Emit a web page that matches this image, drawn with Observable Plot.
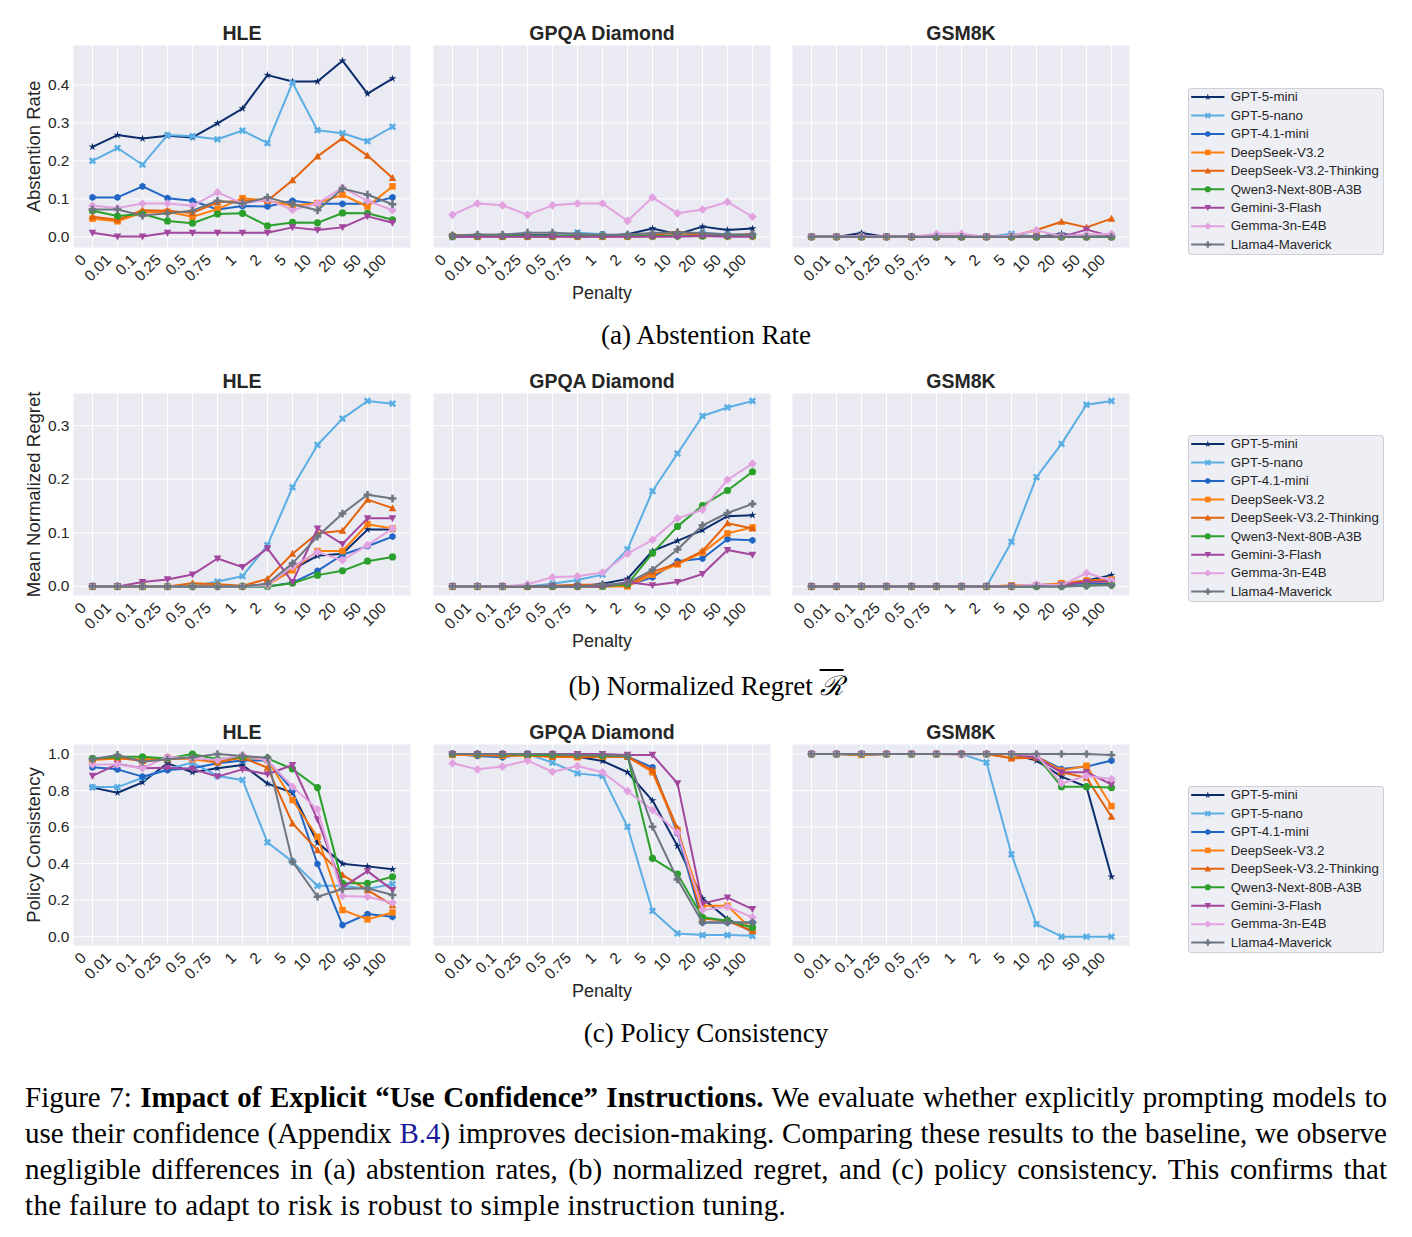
<!DOCTYPE html>
<html><head><meta charset="utf-8">
<script src="https://cdn.jsdelivr.net/npm/d3@7"></script>
<script src="https://cdn.jsdelivr.net/npm/@observablehq/plot@0.6"></script>
<style>
body{margin:0;background:#fff;}
#fig{position:relative;width:1412px;height:1237px;overflow:hidden;background:#fff;}
.panel{position:absolute;}
.leg{position:absolute;left:1188px;width:196px;height:167px;box-sizing:border-box;background:#eeeef5;border:1px solid #cfcfd4;border-radius:3px;}
.leg svg{position:absolute;left:-1px;top:-1px;}
.cap{position:absolute;left:0;width:1412px;text-align:center;font-family:"Liberation Serif","Times New Roman",serif;font-size:27px;line-height:30px;color:#000;}
.body{position:absolute;left:25px;top:1079px;width:1362px;font-family:"Liberation Serif","Times New Roman",serif;font-size:29px;line-height:36px;color:#000;}
.body .j{text-align:justify;text-align-last:justify;}
.body .last{letter-spacing:0.32px;}
</style></head>
<body><div id="fig"></div>
<script>
const penalties = ["0","0.01","0.1","0.25","0.5","0.75","1","2","5","10","20","50","100"];
const models = ["GPT-5-mini","GPT-5-nano","GPT-4.1-mini","DeepSeek-V3.2","DeepSeek-V3.2-Thinking","Qwen3-Next-80B-A3B","Gemini-3-Flash","Gemma-3n-E4B","Llama4-Maverick"];
const colors = ["#0c2d6b","#5aaee3","#2166c4","#ff7f0e","#e3620b","#2ca02c","#a3469e","#e2a2e0","#6d7680"];

// Abstention rate
const abstention_HLE = [
 [0.237,0.268,0.259,0.266,0.262,0.299,0.338,0.426,0.409,0.409,0.464,0.377,0.417],
 [0.200,0.234,0.190,0.268,0.265,0.257,0.280,0.247,0.406,0.281,0.273,0.252,0.290],
 [0.104,0.104,0.133,0.102,0.095,0.072,0.081,0.080,0.095,0.087,0.087,0.087,0.104],
 [0.048,0.041,0.064,0.066,0.053,0.073,0.102,0.095,0.082,0.089,0.111,0.080,0.133],
 [0.053,0.045,0.070,0.069,0.063,0.091,0.095,0.095,0.149,0.212,0.260,0.214,0.155],
 [0.069,0.055,0.060,0.042,0.036,0.060,0.062,0.029,0.038,0.037,0.063,0.062,0.045],
 [0.011,0.001,0.001,0.011,0.011,0.011,0.011,0.011,0.025,0.018,0.025,0.054,0.037],
 [0.082,0.076,0.088,0.088,0.082,0.117,0.088,0.098,0.071,0.088,0.130,0.095,0.070],
 [0.072,0.072,0.056,0.062,0.069,0.095,0.088,0.104,0.086,0.070,0.127,0.111,0.086]
];
const abstention_GPQA = [
 [0.003,0.004,0.004,0.004,0.004,0.000,0.003,0.007,0.022,0.007,0.027,0.018,0.022],
 [0.000,0.000,0.000,0.000,0.000,0.011,0.007,0.003,0.002,0.004,0.010,0.007,0.005],
 [0.000,0.002,0.002,0.002,0.002,0.003,0.002,0.002,0.004,0.003,0.004,0.003,0.003],
 [0.002,0.001,0.001,0.001,0.001,0.001,0.001,0.001,0.002,0.004,0.003,0.002,0.002],
 [0.005,0.002,0.002,0.002,0.002,0.003,0.002,0.003,0.004,0.014,0.003,0.003,0.008],
 [0.002,0.002,0.002,0.002,0.002,0.002,0.002,0.002,0.002,0.002,0.002,0.002,0.002],
 [0.000,0.000,0.000,0.000,0.000,0.000,0.000,0.000,0.000,0.000,0.002,0.000,0.000],
 [0.058,0.088,0.083,0.058,0.083,0.088,0.088,0.042,0.104,0.062,0.072,0.092,0.053],
 [0.003,0.006,0.006,0.011,0.011,0.008,0.005,0.006,0.010,0.012,0.010,0.006,0.006]
];
const abstention_GSM8K = [
 [0,0,0.010,0,0,0,0,0,0,0,0.008,0,0],
 [0,0,0,0,0,0,0,0,0.008,0,0,0,0],
 [0,0,0,0,0,0,0,0,0,0,0,0,0],
 [0,0,0,0,0,0,0,0,0,0,0,0,0],
 [0,0,0,0,0,0,0,0,0.002,0.018,0.040,0.025,0.048],
 [0,0,0,0,0,0,0,0,0,0,0,0,0],
 [0,0,0,0,0,0,0,0,0,0,0,0.019,0.002],
 [0,0,0.002,0,0,0.008,0.008,0,0.003,0.017,0.002,0.006,0.008],
 [0,0,0,0,0,0,0,0,0,0,0,0,0]
];
// Mean normalized regret
const regret_HLE = [
 [0,0,0,0,0,0,0,0.004,0.032,0.057,0.061,0.106,0.106],
 [0,0,0,0,0,0.009,0.019,0.077,0.185,0.264,0.313,0.346,0.341],
 [0,0,0,0,0,0,0,0,0.007,0.029,0.059,0.075,0.093],
 [0,0,0,0,0.001,0.001,0,0.003,0.030,0.066,0.066,0.116,0.108],
 [0,0,0,0,0.006,0.004,0.001,0.014,0.061,0.099,0.104,0.162,0.146],
 [0,0,0,0,0,0,0,0,0.006,0.021,0.029,0.047,0.055],
 [0,0,0.008,0.013,0.022,0.052,0.036,0.071,0.008,0.108,0.079,0.127,0.127],
 [0,0,0,0,0,0,0,0.002,0.037,0.064,0.049,0.077,0.108],
 [0,0,0,0,0,0,0,0.005,0.043,0.093,0.136,0.171,0.164]
];
const regret_GPQA = [
 [0,0,0,0,0,0,0.005,0.014,0.066,0.085,0.105,0.131,0.133],
 [0,0,0,0,0.005,0.012,0.022,0.069,0.178,0.248,0.318,0.334,0.346],
 [0,0,0,0,0,0,0,0.002,0.017,0.047,0.052,0.088,0.086],
 [0,0,0,0,0,0,0,0,0.022,0.041,0.063,0.099,0.110],
 [0,0,0,0,0.001,0.003,0.003,0.002,0.027,0.043,0.066,0.118,0.108],
 [0,0,0,0,0,0,0,0.004,0.062,0.112,0.151,0.179,0.214],
 [0,0,0,0,0,0,0,0.008,0.002,0.008,0.023,0.068,0.059],
 [0,0,0,0.004,0.017,0.019,0.026,0.061,0.087,0.127,0.143,0.199,0.229],
 [0,0,0,0,0,0,0.003,0.006,0.031,0.069,0.114,0.137,0.154]
];
const regret_GSM8K = [
 [0,0,0,0,0,0,0,0,0,0.002,0.005,0.011,0.021],
 [0,0,0,0,0,0,0,0,0.083,0.204,0.266,0.339,0.346],
 [0,0,0,0,0,0,0,0,0,0,0.003,0.006,0.005],
 [0,0,0,0,0,0,0,0,0.002,0.002,0.006,0.011,0.013],
 [0,0,0,0,0,0,0,0,0,0.001,0.003,0.010,0.008],
 [0,0,0,0,0,0,0,0,0,0,0,0.002,0.003],
 [0,0,0,0,0,0,0,0,0,0.001,0.003,0.008,0.010],
 [0,0,0,0,0,0,0,0,0,0.004,0.002,0.025,0.011],
 [0,0,0,0,0,0,0,0,0,0,0,0.001,0.002]
];
// Policy consistency
const consistency_HLE = [
 [0.816,0.788,0.845,0.949,0.900,0.922,0.940,0.838,0.788,0.515,0.400,0.385,0.369],
 [0.819,0.819,0.870,0.918,0.953,0.880,0.858,0.516,0.411,0.279,0.279,0.261,0.288],
 [0.927,0.916,0.876,0.912,0.922,0.949,0.964,0.964,0.803,0.398,0.064,0.124,0.109],
 [0.967,0.976,0.971,0.980,0.971,0.954,0.985,0.967,0.748,0.547,0.146,0.095,0.133],
 [0.971,0.980,0.962,0.971,0.980,0.958,0.980,0.925,0.620,0.474,0.338,0.255,0.173],
 [0.976,0.985,0.985,0.976,1.000,0.971,0.985,0.976,0.918,0.816,0.292,0.292,0.328],
 [0.880,0.945,0.922,0.925,0.918,0.876,0.916,0.889,0.940,0.642,0.270,0.359,0.255],
 [0.943,0.943,0.922,0.985,0.976,0.967,0.995,0.964,0.821,0.697,0.223,0.219,0.186],
 [0.971,0.995,0.958,0.971,0.982,1.000,0.989,0.980,0.411,0.219,0.261,0.265,0.228]
];
const consistency_GPQA = [
 [1.0,0.995,0.995,0.995,0.990,0.985,0.962,0.900,0.745,0.496,0.210,0.097,0.027],
 [1.0,0.995,0.990,1.0,0.953,0.894,0.880,0.602,0.141,0.018,0.009,0.009,0.005],
 [1.0,0.989,0.982,1.0,0.995,0.990,0.990,0.985,0.927,0.566,0.078,0.078,0.078],
 [0.995,0.995,0.990,0.990,0.985,0.982,0.985,0.985,0.900,0.584,0.170,0.170,0.036],
 [1.0,1.0,0.995,0.995,0.985,0.985,0.985,0.985,0.912,0.593,0.100,0.086,0.031],
 [1.0,1.0,1.0,0.995,0.995,0.995,0.990,0.990,0.429,0.343,0.106,0.088,0.051],
 [1.0,1.0,1.0,1.0,1.0,1.0,1.0,0.995,0.995,0.839,0.182,0.214,0.151],
 [0.949,0.916,0.931,0.964,0.903,0.934,0.900,0.797,0.693,0.571,0.146,0.164,0.106],
 [1.0,1.0,1.0,1.0,1.0,0.995,0.995,0.990,0.602,0.314,0.078,0.078,0.078]
];
const consistency_GSM8K = [
 [1.0,1.0,0.995,1.0,1.0,1.0,1.0,1.0,1.0,0.964,0.876,0.821,0.328],
 [1.0,1.0,1.0,1.0,1.0,1.0,1.0,0.954,0.451,0.069,0.0,0.0,0.0],
 [1.0,1.0,1.0,1.0,1.0,1.0,1.0,1.0,1.0,0.985,0.918,0.931,0.964],
 [1.0,1.0,0.995,1.0,1.0,1.0,1.0,1.0,0.980,0.985,0.909,0.936,0.715],
 [1.0,1.0,1.0,1.0,1.0,1.0,1.0,1.0,0.976,0.980,0.900,0.870,0.657],
 [1.0,1.0,1.0,1.0,1.0,1.0,1.0,1.0,1.0,0.990,0.821,0.821,0.816],
 [1.0,1.0,1.0,1.0,1.0,1.0,1.0,1.0,1.0,0.980,0.900,0.900,0.834],
 [1.0,1.0,1.0,1.0,1.0,1.0,0.995,1.0,1.0,0.995,0.839,0.880,0.863],
 [1.0,1.0,1.0,1.0,1.0,1.0,1.0,1.0,1.0,1.0,1.0,1.0,0.995]
];
const benchmarks = ["HLE","GPQA Diamond","GSM8K"];
const yTicksA = [0,0.1,0.2,0.3,0.4];
const yTicksB = [0,0.1,0.2,0.3];
const yTicksC = [0,0.2,0.4,0.6,0.8,1.0];

// marker shapes (matplotlib-like)
function polySym(pts){
  return {draw(ctx,size){const R=Math.sqrt(size/Math.PI);
    ctx.moveTo(pts[0][0]*R,pts[0][1]*R);
    for(let k=1;k<pts.length;k++) ctx.lineTo(pts[k][0]*R,pts[k][1]*R);
    ctx.closePath();}};
}
const circleSym={draw(ctx,size){const R=Math.sqrt(size/Math.PI);ctx.moveTo(R,0);ctx.arc(0,0,R,0,2*Math.PI);}};
const starPts=d3.range(10).map(k=>{const a=-Math.PI/2+k*Math.PI/5,r=k%2?0.42:1.15;return [r*Math.cos(a),r*Math.sin(a)];});
const hexPts=d3.range(6).map(k=>{const a=-Math.PI/2+k*Math.PI/3;return [Math.cos(a),Math.sin(a)];});
const plusPts=[[-1,-3],[1,-3],[1,-1],[3,-1],[3,1],[1,1],[1,3],[-1,3],[-1,1],[-3,1],[-3,-1],[-1,-1]].map(([x,y])=>[x/2.8,y/2.8]);
const xPts=plusPts.map(([x,y])=>[(x-y)/Math.SQRT2,(x+y)/Math.SQRT2]);
const symbols=[
  polySym(starPts), polySym(xPts), polySym(hexPts),
  polySym([[-0.9,-0.9],[0.9,-0.9],[0.9,0.9],[-0.9,0.9]]),
  polySym([[0,-1.1],[1.05,0.85],[-1.05,0.85]]),
  circleSym,
  polySym([[0,1.1],[1.05,-0.85],[-1.05,-0.85]]),
  polySym([[0,-1.2],[1.2,0],[0,1.2],[-1.2,0]]),
  polySym(plusPts)
];
const FONT='"Liberation Sans", Arial, Helvetica, sans-serif';
const TXT="#262626";

function panel(o){
  const ml=80, mr=10, mt=40, mb=80;
  const marks=[
    Plot.frame({fill:"#eaeaf2",stroke:"none"}),
    Plot.ruleX(penalties,{x:d=>d,stroke:"#ffffff",strokeWidth:1}),
    Plot.ruleY(o.yTicks,{y:d=>d,stroke:"#ffffff",strokeWidth:1})
  ];
  o.data.forEach((vals,i)=>{
    const pts=penalties.map((p,j)=>({p,v:vals[j]}));
    marks.push(Plot.line(pts,{x:"p",y:"v",stroke:colors[i],strokeWidth:2}));
    marks.push(Plot.dot(pts,{x:"p",y:"v",symbol:symbols[i],r:3.6,fill:colors[i],stroke:"none"}));
  });
  marks.push(Plot.text(penalties,{x:d=>d,text:d=>d,frameAnchor:"bottom",rotate:-45,textAnchor:"end",lineAnchor:"middle",dx:-9,dy:10,fontSize:15.5,fill:TXT}));
  marks.push(Plot.text([o.title],{text:d=>d,frameAnchor:"top",textAnchor:"middle",lineAnchor:"middle",dy:-12,fontSize:19.5,fontWeight:"bold",fill:TXT}));
  if(o.showY){
    marks.push(Plot.text(o.yTicks,{y:d=>d,text:d=>d.toFixed(1),frameAnchor:"left",textAnchor:"end",lineAnchor:"middle",dx:-4,fontSize:15.5,fill:TXT}));
    marks.push(Plot.text([o.yLabel],{text:d=>d,frameAnchor:"left",textAnchor:"middle",lineAnchor:"middle",rotate:-90,dx:-39,fontSize:18.5,fill:TXT}));
  }
  if(o.xLabel){
    marks.push(Plot.text([o.xLabel],{text:d=>d,frameAnchor:"bottom",textAnchor:"middle",lineAnchor:"middle",dy:46,fontSize:18,fill:TXT}));
  }
  const svg=Plot.plot({
    width:o.w+ml+mr,height:o.h+mt+mb,marginLeft:ml,marginRight:mr,marginTop:mt,marginBottom:mb,
    x:{type:"point",domain:penalties,padding:0.6,axis:null},
    y:{domain:o.yDomain,axis:null},
    style:{fontFamily:FONT,background:"transparent",overflow:"visible"},
    marks
  });
  svg.classList.add("panel");
  svg.style.left=(o.x0-ml)+"px";
  svg.style.top=(o.y0-mt)+"px";
  return svg;
}

function legend(top){
  const W=196,H=167;
  const marks=[];
  const yi=d=>models.indexOf(d);
  models.forEach((m,i)=>{
    marks.push(Plot.link([m],{x1:2.7,x2:36.3,y1:yi,y2:yi,stroke:colors[i],strokeWidth:2}));
    marks.push(Plot.dot([m],{x:19.5,y:yi,symbol:symbols[i],r:3.1,fill:colors[i],stroke:"none"}));
    marks.push(Plot.text([m],{x:42.7,y:yi,text:d=>d,textAnchor:"start",lineAnchor:"middle",fontSize:13.4,fill:TXT}));
  });
  const svg=Plot.plot({width:W,height:H,margin:0,
    x:{domain:[0,W],range:[0,W],axis:null},
    y:{domain:[0,models.length-1],range:[8.7,157.7],axis:null},
    style:{fontFamily:FONT,background:"transparent",overflow:"visible"},marks});
  const div=document.createElement("div");
  div.className="leg";div.style.top=top+"px";
  div.appendChild(svg);
  return div;
}

const fig=document.getElementById("fig");
const xs=[73,432.5,792];
const rows=[
  {y0:45,h:202,data:[abstention_HLE,abstention_GPQA,abstention_GSM8K],yDomain:[-0.028,0.504],yTicks:yTicksA,yLabel:"Abstention Rate",leg:88.3},
  {y0:393,h:202,data:[regret_HLE,regret_GPQA,regret_GSM8K],yDomain:[-0.017,0.360],yTicks:yTicksB,yLabel:"Mean Normalized Regret",leg:434.5},
  {y0:744,h:201,data:[consistency_HLE,consistency_GPQA,consistency_GSM8K],yDomain:[-0.048,1.052],yTicks:yTicksC,yLabel:"Policy Consistency",leg:786.3}
];
rows.forEach(r=>{
  benchmarks.forEach((b,k)=>{
    fig.appendChild(panel({x0:xs[k],y0:r.y0,w:337,h:r.h,title:b,data:r.data[k],yDomain:r.yDomain,yTicks:r.yTicks,
      yLabel:r.yLabel,showY:k===0,xLabel:k===1?"Penalty":null}));
  });
  fig.appendChild(legend(r.leg));
});

function addCap(html,top){const d=document.createElement("div");d.className="cap";d.style.top=top+"px";d.innerHTML=html;fig.appendChild(d);}
addCap("(a) Abstention Rate",320);
addCap('(b) Normalized Regret <span style="text-decoration:overline;font-style:italic;">ℛ</span>',671);
addCap("(c) Policy Consistency",1018);

const body=document.createElement("div");body.className="body";
body.innerHTML=
 '<div class="j">Figure 7: <b>Impact of Explicit “Use Confidence” Instructions.</b> We evaluate whether explicitly prompting models to</div>'+
 '<div class="j">use their confidence (Appendix <span style="color:#1a1a9c">B.4</span>) improves decision-making. Comparing these results to the baseline, we observe</div>'+
 '<div class="j">negligible differences in (a) abstention rates, (b) normalized regret, and (c) policy consistency. This confirms that</div>'+
 '<div class="last">the failure to adapt to risk is robust to simple instruction tuning.</div>';
fig.appendChild(body);
</script>
</body></html>
